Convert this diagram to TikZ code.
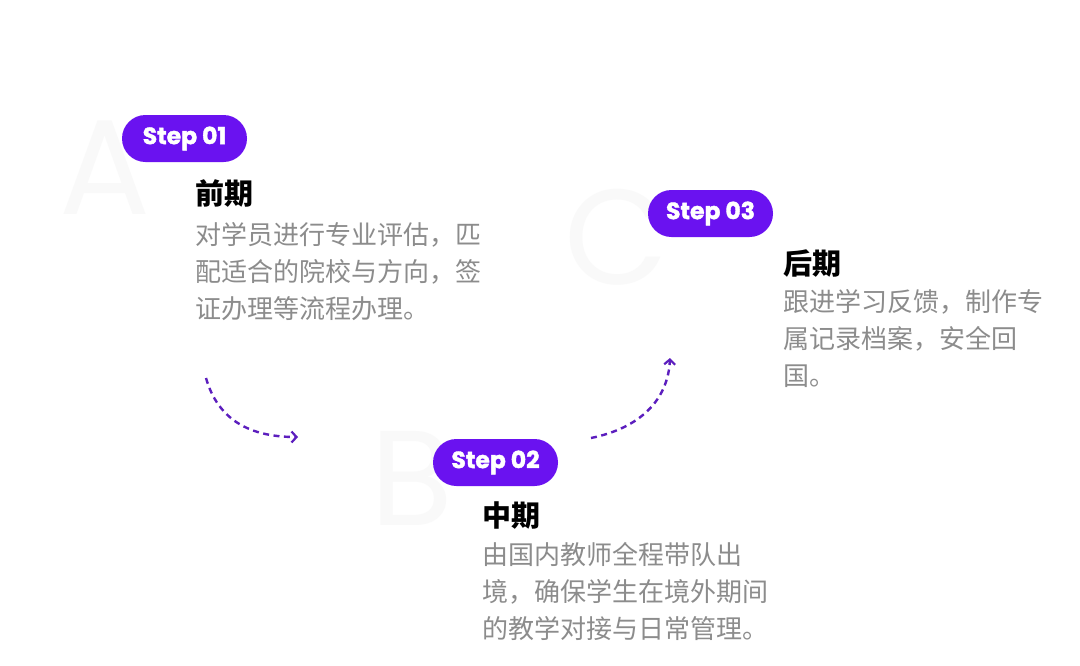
\documentclass[tikz,border=0pt]{standalone}
\usepackage{fontspec}
\newfontfamily\cjk{Noto Sans CJK SC}
\newfontfamily\pop{Poppins}[BoldFeatures={FakeBold=1.6}]
\usetikzlibrary{arrows.meta}
\definecolor{pill}{RGB}{106,18,240}
\definecolor{arrowc}{RGB}{92,30,190}
\definecolor{bodyc}{RGB}{140,140,140}
\definecolor{ghost}{RGB}{249,249,249}
\tikzset{
  stepbox/.style={fill=pill, text=white, rounded corners=23.5pt, minimum width=125pt, minimum height=47pt, inner sep=0pt, font=\pop\bfseries\fontsize{23.5}{23.5}\selectfont},
  titletext/.style={anchor=base west, inner sep=0pt, text=black, font=\cjk\bfseries\fontsize{29}{29}\selectfont},
  bodytext/.style={anchor=base west, inner sep=0pt, text=bodyc, font=\cjk\fontsize{26}{26}\selectfont},
  ghostletter/.style={inner sep=0pt, text=ghost, font=\pop\fontsize{135}{135}\selectfont},
  flow/.style={draw=arrowc, line width=2.4pt, dash pattern=on 6pt off 4.5pt, -{Straight Barb[length=5pt,width=11pt,line width=2.2pt]}}
}
\begin{document}
\begin{tikzpicture}[x=1pt,y=-1pt]
\useasboundingbox[fill=white] (0,0) rectangle (1080,665);
% ghost letters
\node[ghostletter] (gA) at (105,168) {A};
\node[ghostletter] (gC) at (617,237) {C};
\node[ghostletter] (gB) at (412,478) {B};
% pills
\node[stepbox] (s1) at (184.5,138.5) {Step 01};
\node[stepbox] (s3) at (710.5,213.5) {Step 03};
\node[stepbox] (s2) at (495.5,462.5) {Step 02};
% left block
\node[titletext] (t1) at (195,204) {前期};
\node[bodytext] (b1a) at (195,244) {对学员进行专业评估，匹};
\node[bodytext] (b1b) at (195,281) {配适合的院校与方向，签};
\node[bodytext] (b1c) at (195,318) {证办理等流程办理。};
% right block
\node[titletext] (t3) at (783,274) {后期};
\node[bodytext] (b3a) at (783,311) {跟进学习反馈，制作专};
\node[bodytext] (b3b) at (783,348) {属记录档案，安全回};
\node[bodytext] (b3c) at (783,385) {国。};
% middle block
\node[titletext] (t2) at (482,526) {中期};
\node[bodytext] (b2a) at (482,564) {由国内教师全程带队出};
\node[bodytext] (b2b) at (482,601) {境，确保学生在境外期间};
\node[bodytext] (b2c) at (482,638) {的教学对接与日常管理。};
% arrows
\coordinate (a1s) at (206,378);
\coordinate (a1e) at (298,437);
\coordinate (a2s) at (591,438);
\coordinate (a2e) at (670,358);
\draw[flow] (a1s) .. controls (218,420) and (250,437) .. (a1e);
\draw[flow] (a2s) .. controls (640,428) and (668,400) .. (a2e);
\end{tikzpicture}
\end{document}
